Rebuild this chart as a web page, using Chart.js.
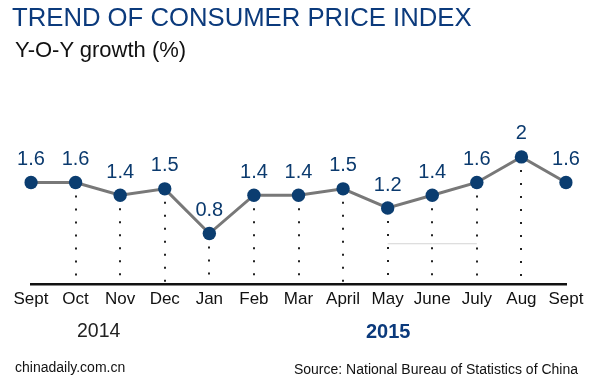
<!DOCTYPE html>
<html>
<head>
<meta charset="utf-8">
<script src="https://cdn.jsdelivr.net/npm/chart.js@4/dist/chart.umd.min.js"></script>
<style>
  html, body { margin: 0; padding: 0; background: #fff; }
  #wrap { position: relative; width: 600px; height: 380px; overflow: hidden; font-family: "Liberation Sans", Arial, sans-serif; }
  #c { position: absolute; left: 0; top: 0; }
  .t { position: absolute; white-space: nowrap; line-height: normal; }
</style>
</head>
<body>
<div id="wrap">
  <canvas id="c" width="600" height="380"></canvas>
  <div class="t" style="left:12px; top:3px; font-size:25.7px; color:#0b3a7c;">TREND OF CONSUMER PRICE INDEX</div>
  <div class="t" style="left:15px; top:37px; font-size:22px; color:#111;">Y-O-Y growth (%)</div>
  <div class="t" style="left:77px; top:319px; font-size:19.5px; color:#222;">2014</div>
  <div class="t" style="left:366px; top:320px; font-size:20px; font-weight:bold; color:#0b3a7c;">2015</div>
  <div class="t" style="left:15px; top:359px; font-size:14px; color:#111;">chinadaily.com.cn</div>
  <div class="t" style="right:22px; top:361px; font-size:14px; color:#111;">Source: National Bureau of Statistics of China</div>
</div>
<script>
const categories = ["Sept","Oct","Nov","Dec","Jan","Feb","Mar","April","May","June","July","Aug","Sept"];
const cpiValues = [1.6, 1.6, 1.4, 1.5, 0.8, 1.4, 1.4, 1.5, 1.2, 1.4, 1.6, 2, 1.6];
const faintLine = [null, null, null, null, null, null, null, null, 0.64, 0.64, 0.64, null, null];
const yMin = 0, yMax = 2.5;

const dropLines = {
  id: 'dropLines',
  beforeDatasetsDraw(chart) {
    const ctx = chart.ctx;
    const meta = chart.getDatasetMeta(1);
    const bottom = chart.scales.y.getPixelForValue(0);
    ctx.save();
    ctx.strokeStyle = '#222';
    ctx.lineWidth = 2;
    ctx.setLineDash([2, 11]);
    meta.data.forEach((p, i) => {
      if (i === 0 || i === meta.data.length - 1) return;
      ctx.beginPath();
      ctx.moveTo(Math.round(p.x), p.y + 13);
      ctx.lineTo(Math.round(p.x), bottom - 2);
      ctx.stroke();
    });
    ctx.restore();
  },
  afterDatasetsDraw(chart) {
    const ctx = chart.ctx;
    const meta = chart.getDatasetMeta(1);
    ctx.save();
    ctx.fillStyle = '#0b3a6e';
    ctx.font = '20px "Liberation Sans", Arial, sans-serif';
    ctx.textAlign = 'center';
    ctx.textBaseline = 'middle';
    meta.data.forEach((p, i) => {
      ctx.fillText(String(cpiValues[i]), p.x, p.y - 23);
    });
    ctx.restore();
  }
};

new Chart(document.getElementById('c'), {
  type: 'line',
  data: {
    labels: categories,
    datasets: [
      {
        data: faintLine,
        borderColor: '#d4d4d4',
        borderWidth: 1,
        pointRadius: 0,
        spanGaps: false
      },
      {
        data: cpiValues,
        borderColor: '#787878',
        borderWidth: 3,
        pointRadius: 6.7,
        pointHoverRadius: 6.7,
        pointBackgroundColor: '#0b3d70',
        pointBorderColor: '#0b3d70',
        pointBorderWidth: 0,
        tension: 0
      }
    ]
  },
  options: {
    responsive: false,
    animation: false,
    layout: { padding: { left: 31, right: 34, top: 125, bottom: 65 } },
    plugins: { legend: { display: false }, tooltip: { enabled: false }, title: { display: false } },
    scales: {
      x: {
        offset: false,
        grid: { display: false, drawTicks: false },
        border: { display: true, color: '#111', width: 2.5 },
        ticks: {
          color: '#111',
          font: { family: '"Liberation Sans", Arial, sans-serif', size: 17 },
          padding: 5,
          maxRotation: 0,
          autoSkip: false
        }
      },
      y: {
        display: false,
        min: yMin,
        max: yMax
      }
    }
  },
  plugins: [dropLines]
});
</script>
</body>
</html>
